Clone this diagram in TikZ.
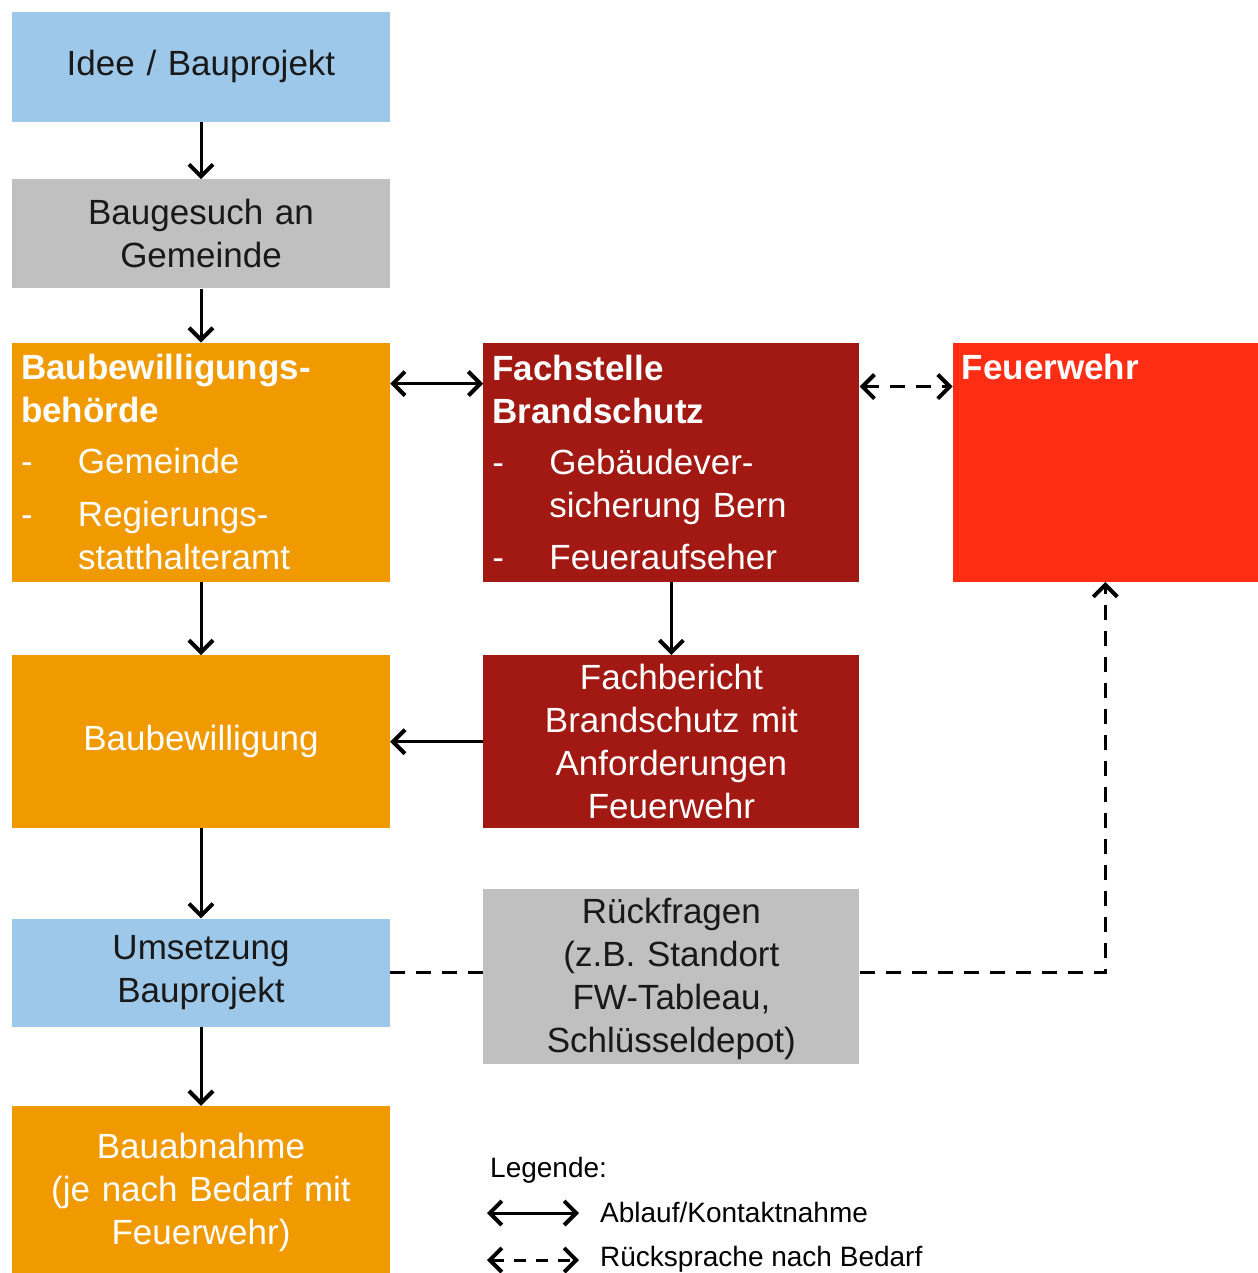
\documentclass[tikz,border=0pt]{standalone}
\usepackage{fontspec}
\setmainfont{Liberation Sans}
\usetikzlibrary{positioning, arrows.meta}
\definecolor{hellblau}{RGB}{157,200,234}
\definecolor{hellgrau}{RGB}{192,192,192}
\definecolor{amtorange}{RGB}{240,154,0}
\definecolor{fachrot}{RGB}{162,24,18}
\definecolor{fwrot}{RGB}{255,45,20}
\tikzset{
    >={Straight Barb[length=12pt,width=24pt,line width=4pt]}, % open arrow heads
    box/.style={rectangle, inner xsep=9pt, inner ysep=0pt, text width=360pt, align=center, font=\fontsize{35}{43}\selectfont}, % all boxes
    blaubox/.style={box, fill=hellblau, text=black!90},
    graubox/.style={box, fill=hellgrau, text=black!90},
    orangebox/.style={box, fill=amtorange, text=white},
    rotbox/.style={box, fill=fachrot, text=white, text width=358pt},
    fwbox/.style={box, fill=fwrot, text=white, text width=287pt, align=left},
    flow/.style={line width=3pt}, % Ablauf/Kontaktnahme
    rueck/.style={line width=3pt, dash pattern=on 15pt off 11pt}, % Ruecksprache
    legtext/.style={anchor=west, inner sep=0pt, font=\fontsize{28}{34}\selectfont},
}

\begin{document}
\begin{tikzpicture}[x=1pt, y=-1pt]
    \useasboundingbox (0,0) rectangle (1257,1273);
    \node[blaubox, minimum height=110pt] (idee) at (201,67) {\strut Idee / Bauprojekt};
    \node[graubox, minimum height=109pt, below=57pt of idee] (gesuch) {Baugesuch an\\Gemeinde};
    \node[orangebox, minimum height=239pt, align=left, below=54pt of gesuch] (behoerde) {%
        \textbf{Baubewilligungs-}\\\textbf{behörde}\\[8pt]
        \makebox[57pt][l]{-}Gemeinde\\[10pt]
        \makebox[57pt][l]{-}Regierungs-\\
        \hspace*{57pt}statthalteramt};
    \node[rotbox, minimum height=239pt, align=left, right=93pt of behoerde] (fachstelle) {%
        \textbf{Fachstelle}\\\textbf{Brandschutz}\\[8pt]
        \makebox[57pt][l]{-}Gebäudever-\\
        \hspace*{57pt}sicherung Bern\\[9pt]
        \makebox[57pt][l]{-}Feueraufseher};
    \node[fwbox, minimum height=239pt, right=93pt of fachstelle] (feuerwehr) {%
        \textbf{Feuerwehr}\\\mbox{}\\[8pt]\mbox{}\\[10pt]\mbox{}\\\mbox{}};
    \node[orangebox, minimum height=173pt, below=73pt of behoerde] (bewilligung) {\strut Baubewilligung};
    \node[rotbox, minimum height=173pt, right=93pt of bewilligung] (bericht) {Fachbericht\\Brandschutz mit\\Anforderungen\\Feuerwehr};
    \node[blaubox, minimum height=108pt, below=90pt of bewilligung] (umsetzung) {Umsetzung\\Bauprojekt};
    \node[graubox, text width=358pt, minimum height=175pt, right=93pt of umsetzung, yshift=-3.5pt] (rueckfragen) {\strut Rückfragen\\(z.B. Standort\\FW-Tableau,\\Schlüsseldepot)};
    \node[orangebox, minimum height=169pt, below=79pt of umsetzung] (abnahme) {\strut Bauabnahme\\(je nach Bedarf mit\\Feuerwehr)};

    \draw[flow, ->] (idee) -- (gesuch);
    \draw[flow, ->] (gesuch) -- (behoerde);
    \draw[flow, ->] (behoerde) -- (bewilligung);
    \draw[flow, ->] (bewilligung) -- (umsetzung);
    \draw[flow, ->] (umsetzung) -- (abnahme);
    \draw[flow, <->] ([yshift=-41pt]behoerde.north east) -- ([yshift=-41pt]fachstelle.north west);
    \draw[rueck, <->] ([yshift=-44pt]fachstelle.north east) -- ([yshift=-44pt]feuerwehr.north west);
    \draw[flow, ->] (fachstelle) -- (bericht);
    \draw[flow, ->] (bericht) -- (bewilligung);
    \draw[rueck] (umsetzung) -- (rueckfragen.west |- umsetzung);
    \draw[rueck, ->] (rueckfragen.east |- umsetzung) -| (feuerwehr);

    % Legende
    \node[legtext] (legende) at (490,1170) {Legende:};
    \coordinate (la) at (487,1213);
    \coordinate (lb) at (579,1213);
    \coordinate (lc) at (487,1260);
    \coordinate (ld) at (579,1260);
    \draw[flow, <->] (la) -- (lb);
    \draw[rueck, <->, dash pattern=on 12pt off 10pt] (lc) -- (ld);
    \node[legtext] (ablauf) at (600,1212) {Ablauf/Kontaktnahme};
    \node[legtext] (bedarf) at (600,1259) {Rücksprache nach Bedarf};
\end{tikzpicture}
\end{document}
